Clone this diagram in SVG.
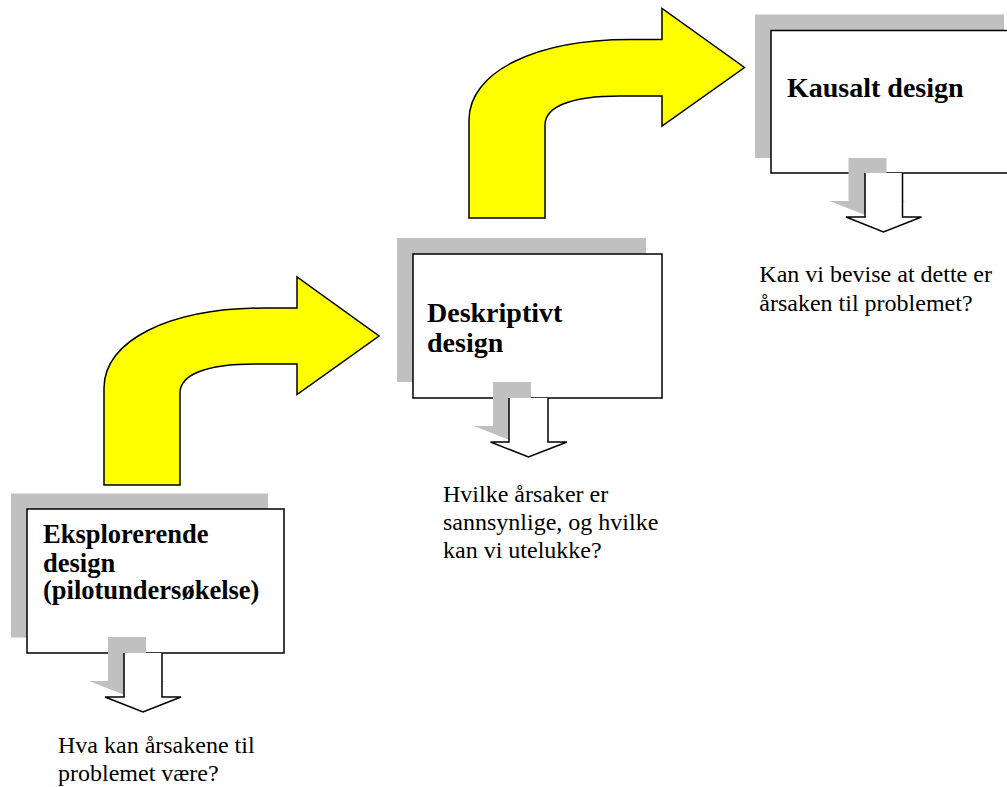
<svg xmlns="http://www.w3.org/2000/svg" width="1007" height="787" viewBox="0 0 1007 787">
  <style>
    .shadow { fill: #c0c0c0; }
    .box { fill: #ffffff; stroke: #000000; stroke-width: 1.5; }
    .bend { fill: #ffff00; stroke: #000000; stroke-width: 1.5; stroke-linejoin: miter; }
    .down { fill: #ffffff; stroke: #000000; stroke-width: 1.5; stroke-linejoin: miter; }
    .title { font-family: "Liberation Serif", "Times New Roman", serif; font-weight: bold; fill: #000000; }
    .note { font-family: "Liberation Serif", "Times New Roman", serif; font-size: 24px; fill: #000000; }
  </style>

  <!-- bent block arrows leading from one stage to the next -->
  <g id="connectors">
    <path class="bend" d="M104,485 L104,388 C104,340 170,308 265,308 L297,308 L297,277 L379,336 L297,394.5 L297,364 L255,364 C205,364 180,375 180,393 L180,485 Z"/>
    <path class="bend" d="M469,218 L469,120 C469,72 535,39.5 630,39.5 L662,39.5 L662,8.5 L744.5,67.5 L662,126 L662,96 L620,96 C570,96 545,107 545,125 L545,218 Z"/>
  </g>

  <!-- stage 1 -->
  <g id="node-eksplorerende">
    <rect class="shadow" x="11" y="493.5" width="257" height="144"/>
    <rect class="box" x="27" y="509" width="257" height="144"/>
    <text class="title" font-size="26.5">
      <tspan x="43" y="543">Eksplorerende</tspan>
      <tspan x="43" y="571.5">design</tspan>
      <tspan x="43" y="599">(pilotundersøkelse)</tspan>
    </text>
    <path class="shadow" d="M108,637 L146,637 L146,681 L165,681 L127,696 L89,681 L108,681 Z"/>
    <path class="down" d="M124,653 L124,697 L105,697 L143,712 L181,697 L162,697 L162,653"/>
    <text class="note">
      <tspan x="58" y="753">Hva kan årsakene til</tspan>
      <tspan x="58" y="781">problemet være?</tspan>
    </text>
  </g>

  <!-- stage 2 -->
  <g id="node-deskriptivt">
    <rect class="shadow" x="397" y="238" width="249" height="144"/>
    <rect class="box" x="413" y="254" width="249" height="144"/>
    <text class="title" font-size="28">
      <tspan x="427" y="321.5">Deskriptivt</tspan>
      <tspan x="427" y="351.5">design</tspan>
    </text>
    <path class="shadow" d="M493,382 L531,382 L531,426 L550,426 L512,441 L474,426 L493,426 Z"/>
    <path class="down" d="M509,398 L509,442 L490.5,442 L528.5,457 L567,442 L548,442 L548,398"/>
    <text class="note">
      <tspan x="443" y="502.3">Hvilke årsaker er</tspan>
      <tspan x="443" y="529.9">sannsynlige, og hvilke</tspan>
      <tspan x="443" y="557.5">kan vi utelukke?</tspan>
    </text>
  </g>

  <!-- stage 3 -->
  <g id="node-kausalt">
    <rect class="shadow" x="755" y="14.5" width="249" height="143.5"/>
    <rect class="box" x="771" y="30.5" width="249" height="142.5"/>
    <text class="title" font-size="28" x="787" y="97">Kausalt design</text>
    <path class="shadow" d="M848.5,158 L886.5,158 L886.5,201 L905.5,201 L867.5,216 L829.5,201 L848.5,201 Z"/>
    <path class="down" d="M865,173 L865,217 L846,217 L883.5,232 L921.5,217 L902.5,217 L902.5,173"/>
    <text class="note">
      <tspan x="759.3" y="282.3">Kan vi bevise at dette er</tspan>
      <tspan x="759.3" y="310.7">årsaken til problemet?</tspan>
    </text>
  </g>
</svg>
